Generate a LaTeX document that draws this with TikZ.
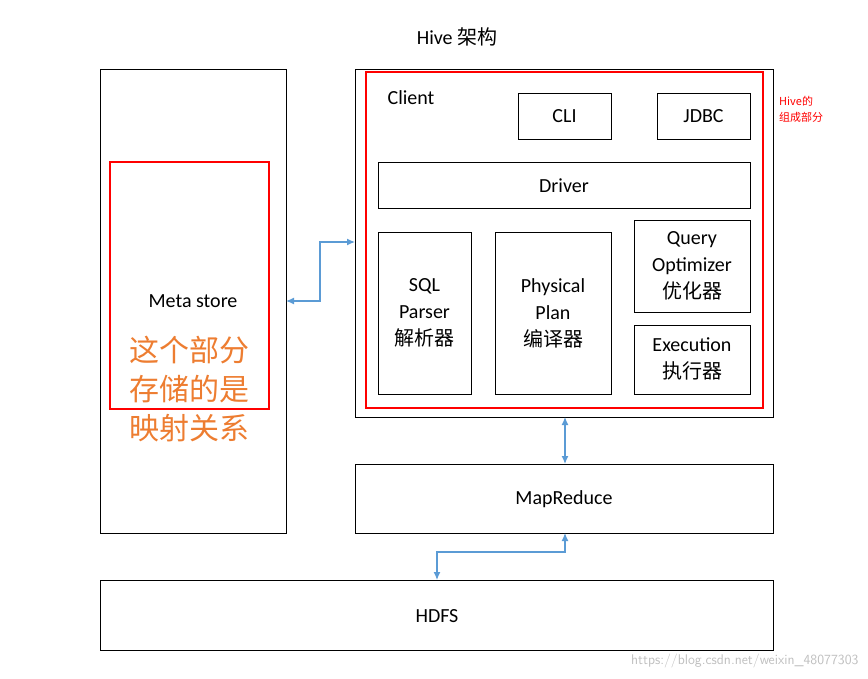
\documentclass[tikz,border=0pt]{standalone}
\usepackage{fontspec}
\setmainfont{Carlito}
\newfontfamily\cjk{Noto Sans CJK SC}
\usetikzlibrary{arrows.meta}
\definecolor{ab}{HTML}{5B9BD5}
\definecolor{org}{HTML}{ED7D31}
\begin{document}
\begin{tikzpicture}[x=1pt,y=-1pt,
  box/.style={draw=black,line width=0.8pt},
  rbox/.style={draw=red,line width=1.8pt},
  lab/.style={font=\fontsize{20}{27}\selectfont,align=center},
  arr/.style={draw=ab,line width=1.2pt,{Latex[length=8pt,width=7pt]}-{Latex[length=8pt,width=7pt]}}]
\useasboundingbox (0,0) rectangle (868,679);
\node[font=\fontsize{20}{24}\selectfont] (title) at (457,37) {Hive {\cjk 架构}};
\draw[box] (100,69) rectangle (286,533); \coordinate (ms) at (286,301);
\draw[rbox] (110,162) rectangle (269,409);
\node[lab] (mstxt) at (193,301) {Meta store};
\node[anchor=north west,text=org,font=\cjk\fontsize{30}{39}\selectfont,align=left,inner sep=0] (otxt) at (129,336) {这个部分\\存储的是\\映射关系};
\draw[box] (355,69) rectangle (773,417);
\draw[rbox] (366,72) rectangle (763,408);
\node[lab] (cl) at (411,98) {Client};
\draw[box] (518,93) rectangle (611,139); \node[lab] (cli) at (564.5,116) {CLI};
\draw[box] (657,93) rectangle (750,139); \node[lab] (jdbc) at (703.5,116) {JDBC};
\draw[box] (378,162) rectangle (750,208); \node[lab] (drv) at (564,186) {Driver};
\draw[box] (378,232) rectangle (471,394); \node[lab] (sql) at (424.5,313) {SQL\\Parser\\{\cjk 解析器}};
\draw[box] (495,232) rectangle (611,394); \node[lab] (pp) at (553,313) {Physical\\Plan\\{\cjk 编译器}};
\draw[box] (634,220) rectangle (750,312); \node[lab] (qo) at (692,266) {Query\\Optimizer\\{\cjk 优化器}};
\draw[box] (634,325) rectangle (750,394); \node[lab] (ex) at (692,359) {Execution\\{\cjk 执行器}};
\node[anchor=north west,text=red,font=\cjk\fontsize{11}{16}\selectfont,align=left,inner sep=0] (hv) at (779,96) {Hive的\\组成部分};
\draw[box] (355,464) rectangle (773,533); \node[lab] (mr) at (564,499) {MapReduce};
\draw[box] (100,580) rectangle (773,650); \node[lab] (hdfs) at (437,616) {HDFS};
\coordinate (clL) at (355,242);
\coordinate (clB) at (565,417); \coordinate (mrT) at (565,464);
\coordinate (mrB) at (565,533); \coordinate (hdT) at (437,580);
\draw[arr] (ms) -- (320,301) -- (320,242) -- (clL);
\draw[arr] (clB) -- (mrT);
\draw[arr] (mrB) -- (565,552) -- (437,552) -- (hdT);
\node[text=gray!50,font=\fontsize{14}{16}\selectfont\sffamily,anchor=east] (wm) at (862,661) {https://blog.csdn.net/weixin\_48077303};
\end{tikzpicture}
\end{document}
